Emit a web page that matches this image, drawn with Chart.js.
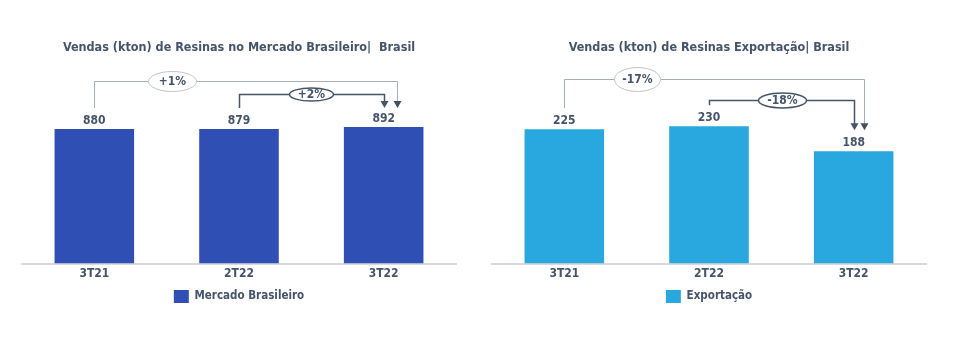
<!DOCTYPE html>
<html>
<head>
<meta charset="utf-8">
<script src="https://cdn.jsdelivr.net/npm/chart.js@4.4.1/dist/chart.umd.min.js"></script>
<style>
  html, body { margin: 0; padding: 0; background: #ffffff; }
  #wrap { position: relative; width: 970px; height: 351px; }
  canvas { position: absolute; top: 0; }
  #c1 { left: 0; }
  #c2 { left: 485px; }
</style>
</head>
<body>
<div id="wrap">
  <canvas id="c1" width="485" height="351"></canvas>
  <canvas id="c2" width="485" height="351"></canvas>
</div>
<script>
// ---- Data ----
const categories = ['3T21', '2T22', '3T22'];
const mercadoBrasileiro = [880, 879, 892];
const exportacao = [225, 230, 188];
// variations: [3T21 -> 3T22, 2T22 -> 3T22]
const variacaoMercado = ['+1%', '+2%'];
const variacaoExportacao = ['-17%', '-18%'];
const tituloMercado = 'Vendas (kton) de Resinas no Mercado Brasileiro|  Brasil';
const tituloExportacao = 'Vendas (kton) de Resinas Exportação| Brasil';

const TEXT = '#44546a';
const FONT = "'DejaVu Sans Condensed', 'DejaVu Sans', sans-serif";

const valueLabels = {
  id: 'valueLabels',
  afterDatasetsDraw(chart) {
    const ctx = chart.ctx;
    const meta = chart.getDatasetMeta(0);
    const vals = chart.data.datasets[0].data;
    ctx.save();
    ctx.font = 'bold 12px ' + FONT;
    ctx.fillStyle = TEXT;
    ctx.textAlign = 'center';
    ctx.textBaseline = 'middle';
    meta.data.forEach((bar, i) => {
      ctx.fillText(String(vals[i]), bar.x, bar.y - 8);
    });
    ctx.restore();
  }
};

const brackets = {
  id: 'brackets',
  afterDatasetsDraw(chart, args, opts) {
    const ctx = chart.ctx;
    const bars = chart.getDatasetMeta(0).data;
    const topMost = Math.min(...bars.map(b => b.y));
    ctx.save();
    (opts.items || []).forEach(it => {
      const a = bars[it.from], b = bars[it.to];
      const y = Math.round(topMost - it.rise) + 0.5;
      const x1 = Math.round(a.x) + 0.5;
      const x2 = Math.round(b.x + it.endShift) + 0.5;
      const y1 = a.y - 21;
      const tip = b.y - 19 - (it.tipExtra || 0);
      ctx.strokeStyle = it.lineColor;
      ctx.lineWidth = it.lineWidth;
      ctx.beginPath();
      ctx.moveTo(x1, y1);
      ctx.lineTo(x1, y);
      ctx.lineTo(x2, y);
      ctx.lineTo(x2, tip - 6);
      ctx.stroke();
      // arrow head
      ctx.fillStyle = it.arrowColor;
      ctx.beginPath();
      ctx.moveTo(x2 - 4, tip - 7);
      ctx.lineTo(x2 + 4, tip - 7);
      ctx.lineTo(x2, tip);
      ctx.closePath();
      ctx.fill();
      // ellipse label
      const ex = x1 + it.ellipseDx;
      ctx.beginPath();
      ctx.ellipse(ex, y, it.rx, it.ry, 0, 0, Math.PI * 2);
      ctx.fillStyle = '#ffffff';
      ctx.fill();
      ctx.strokeStyle = it.ellipseColor;
      ctx.lineWidth = it.ellipseWidth;
      ctx.stroke();
      ctx.fillStyle = TEXT;
      ctx.font = 'bold 12px ' + FONT;
      ctx.textAlign = 'center';
      ctx.textBaseline = 'middle';
      ctx.fillText(it.label, ex, y + 0.5);
    });
    ctx.restore();
  }
};

function makeChart(id, title, label, values, color, yMax, padL, padR, items) {
  return new Chart(document.getElementById(id), {
    type: 'bar',
    data: {
      labels: categories,
      datasets: [{
        label: label,
        data: values,
        backgroundColor: color,
        borderWidth: 0,
        barPercentage: 0.55,
        categoryPercentage: 1.0
      }]
    },
    options: {
      responsive: false,
      animation: false,
      devicePixelRatio: 1,
      layout: { padding: { left: padL, right: padR, top: 0, bottom: 38 } },
      scales: {
        x: {
          grid: { display: false, drawTicks: false },
          border: { display: true, color: '#d9d9d9', width: 2 },
          ticks: { color: TEXT, font: { family: FONT, size: 12, weight: 'bold' }, padding: 3 }
        },
        y: { display: false, min: 0, max: yMax }
      },
      plugins: {
        title: {
          display: true,
          text: title,
          color: TEXT,
          font: { family: FONT, size: 12.5, weight: 'bold' },
          padding: { top: 40, bottom: 6 }
        },
        legend: {
          display: true,
          position: 'bottom',
          labels: {
            color: TEXT,
            font: { family: FONT, size: 11.5, weight: 'bold' },
            boxWidth: 15,
            boxHeight: 13,
            padding: 6
          }
        },
        tooltip: { enabled: false },
        brackets: { items: items }
      }
    },
    plugins: [valueLabels, brackets]
  });
}

makeChart('c1', tituloMercado, 'Mercado Brasileiro', mercadoBrasileiro, '#2f4fb4', 1324, 22, 29, [
  { from: 0, to: 2, rise: 46, endShift: 13, label: variacaoMercado[0], lineColor: '#a6adb4', lineWidth: 1,
    arrowColor: '#3f525e', ellipseDx: 78, rx: 24, ry: 10, ellipseColor: '#bfc4c9', ellipseWidth: 1 },
  { from: 1, to: 2, rise: 33, endShift: 0, label: variacaoMercado[1], lineColor: '#44546a', lineWidth: 1.5,
    arrowColor: '#44546a', ellipseDx: 72, rx: 22, ry: 6.5, ellipseColor: '#44546a', ellipseWidth: 1.5 }
]);

makeChart('c2', tituloExportacao, 'Exportação', exportacao, '#29a7df', 339, 7, 44, [
  { from: 0, to: 2, rise: 47, endShift: 10, label: variacaoExportacao[0], lineColor: '#a6adb4', lineWidth: 1,
    arrowColor: '#3f525e', ellipseDx: 73, rx: 23, ry: 12, ellipseColor: '#bfc4c9', ellipseWidth: 1, tipExtra: 2 },
  { from: 1, to: 2, rise: 26, endShift: 0, label: variacaoExportacao[1], lineColor: '#44546a', lineWidth: 1.5,
    arrowColor: '#44546a', ellipseDx: 73, rx: 24, ry: 7.5, ellipseColor: '#44546a', ellipseWidth: 1.5, tipExtra: 2 }
]);
</script>
</body>
</html>
